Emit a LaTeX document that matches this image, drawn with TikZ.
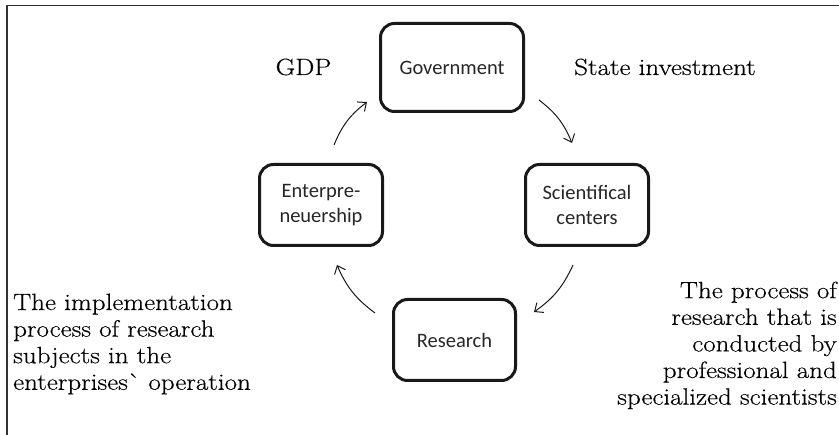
\documentclass[tikz,border=0pt]{standalone}
\usepackage{fontspec}
\usetikzlibrary{arrows.meta}
\newfontfamily\boxfont{Carlito}
\newfontfamily\notefont[FakeStretch=1.15,FakeBold=0.4]{Latin Modern Roman}
\begin{document}
\begin{tikzpicture}[x=1pt,y=-1pt,
  framel/.style={draw=black!80,line width=1.8pt},
  stagebox/.style={draw=black!90,line width=3pt,rounded corners=14pt,inner sep=0pt,
    align=center,font=\boxfont\fontsize{20.5}{25}\selectfont,text=black!85},
  cyclearrow/.style={draw=black!90,line width=1pt,bend left=15,
    -{Straight Barb[length=7pt,width=12pt]}},
  notetext/.style={inner sep=0pt,font=\notefont\fontsize{23.5}{26.6}\selectfont,text=black}]
\useasboundingbox (0,0) rectangle (839,435);
% frame
\coordinate (fa) at (7,435);
\coordinate (fb) at (7,5.5);
\coordinate (fc) at (839,5.5);
\draw[framel] (fa) -- (fb) -- (fc);
% stages
\node[stagebox,minimum width=143pt,minimum height=88pt] (gov) at (452,67.5) {Government};
\node[stagebox,minimum width=123pt,minimum height=81pt] (ent) at (321,205) {Enterpre-\\neuership};
\node[stagebox,minimum width=123pt,minimum height=81pt] (sci) at (587,205) {Scientifical\\centers};
\node[stagebox,minimum width=122pt,minimum height=81pt] (res) at (454.5,340) {Research};
% arrow ends
\coordinate (a1s) at (334,145); \coordinate (a1e) at (367,102);
\coordinate (a2s) at (539,100); \coordinate (a2e) at (572,143);
\coordinate (a3s) at (573,265); \coordinate (a3e) at (534,312);
\coordinate (a4s) at (375,313); \coordinate (a4e) at (337,265);
\draw[cyclearrow] (a1s) to (a1e);
\draw[cyclearrow] (a2s) to (a2e);
\draw[cyclearrow] (a3s) to (a3e);
\draw[cyclearrow] (a4s) to (a4e);
% labels
\node[notetext,anchor=base] (gdp) at (303.5,75) {GDP};
\node[notetext,anchor=base west] (state) at (574,75) {State investment};
\node[notetext,anchor=north west,align=left] (impl) at (13,293.5)
  {The implementation\\process of research\\subjects in the\\enterprises` operation};
\node[notetext,anchor=north east,align=right] (proc) at (837,281.5)
  {The process of\\research that is\\conducted by\\professional and\\specialized scientists};
\end{tikzpicture}
\end{document}
